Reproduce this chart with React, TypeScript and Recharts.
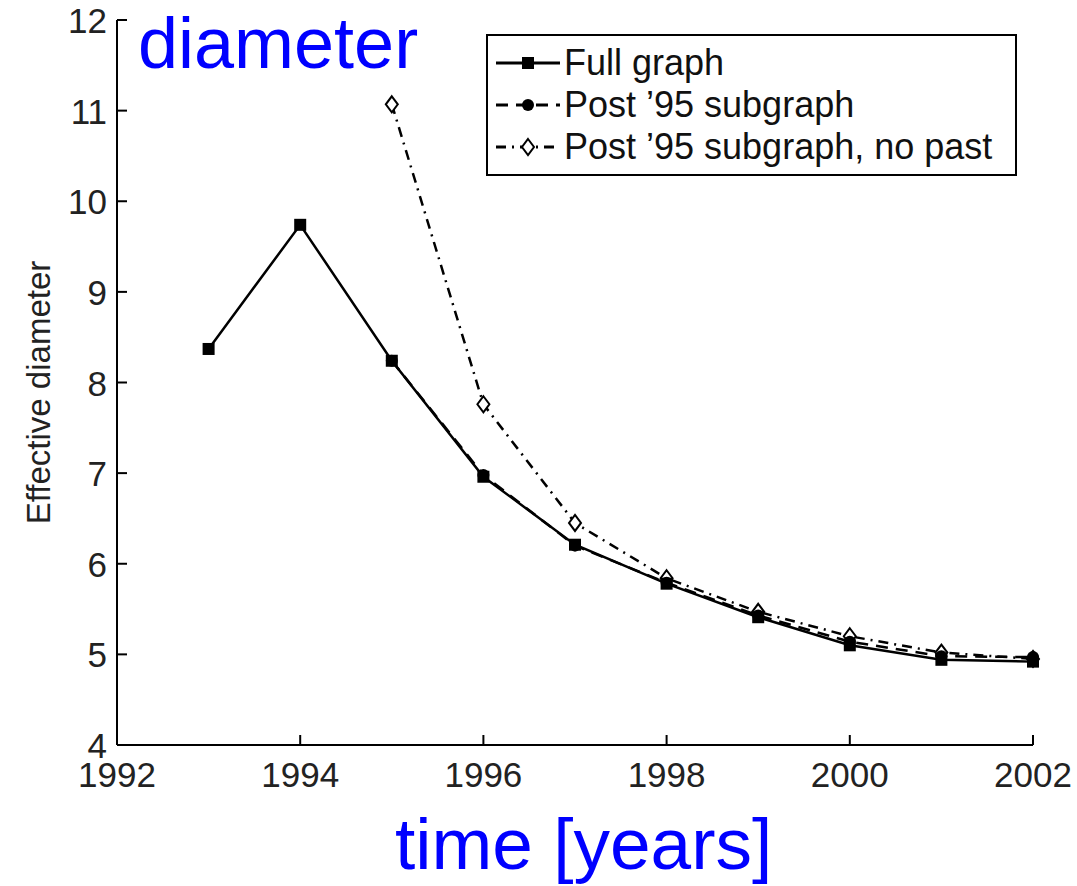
import { LineChart, Line, XAxis, YAxis } from "recharts"

const years = [1993, 1994, 1995, 1996, 1997, 1998, 1999, 2000, 2001, 2002]
const fullGraph = [8.37, 9.74, 8.24, 6.96, 6.21, 5.78, 5.41, 5.1, 4.94, 4.92]
const post95 = [null, null, 8.24, 6.98, 6.2, 5.79, 5.43, 5.14, 4.98, 4.97]
const post95NoPast = [null, null, 11.07, 7.76, 6.45, 5.84, 5.47, 5.2, 5.02, 4.95]

const xTicks = [1992, 1994, 1996, 1998, 2000, 2002]
const yTicks = [4, 5, 6, 7, 8, 9, 10, 11, 12]

const FONT = "'Liberation Sans', Arial, Helvetica, sans-serif"

const data = years.map((year, i) => ({
    year,
    full: fullGraph[i],
    post95: post95[i],
    noPast: post95NoPast[i],
}))

const SquareDot = (props: any) => {
    const { cx, cy, key } = props
    if (cx == null || cy == null) return <g key={key} />
    return <rect key={key} x={cx - 6} y={cy - 6} width={12} height={12} fill="#000" />
}

const CircleDot = (props: any) => {
    const { cx, cy, key } = props
    if (cx == null || cy == null) return <g key={key} />
    return <circle key={key} cx={cx} cy={cy} r={6} fill="#000" />
}

const DiamondDot = (props: any) => {
    const { cx, cy, key } = props
    if (cx == null || cy == null) return <g key={key} />
    return (
        <polygon
            key={key}
            points={`${cx},${cy - 8} ${cx + 6},${cy} ${cx},${cy + 8} ${cx - 6},${cy}`}
            fill="#fff"
            stroke="#000"
            strokeWidth={2}
        />
    )
}

const XTick = ({ x, y, payload }: any) => (
    <g>
        <line x1={x} y1={y} x2={x} y2={y - 10} stroke="#000" strokeWidth={2} />
        <text x={x} y={y + 42} textAnchor="middle" fontSize={35} fontFamily={FONT} fill="#222">
            {payload.value}
        </text>
    </g>
)

const YTick = ({ x, y, payload }: any) => (
    <g>
        <line x1={x} y1={y} x2={x + 10} y2={y} stroke="#000" strokeWidth={2} />
        <text x={x - 10} y={y + 13} textAnchor="end" fontSize={35} fontFamily={FONT} fill="#222">
            {payload.value}
        </text>
    </g>
)

const series = [
    { name: "Full graph", dash: undefined, Dot: SquareDot },
    { name: "Post \u201995 subgraph", dash: "12 8", Dot: CircleDot },
    { name: "Post \u201995 subgraph, no past", dash: "10 6 2 6", Dot: DiamondDot },
]

const LegendBox = () => (
    <div
        style={{
            position: "absolute",
            left: 486,
            top: 34,
            width: 531,
            height: 142,
            border: "2px solid #000",
            background: "#fff",
            boxSizing: "border-box",
            fontFamily: FONT,
        }}
    >
        {series.map((s, i) => (
            <div key={i} style={{ display: "flex", alignItems: "center", height: 42, marginTop: i === 0 ? 6 : 0 }}>
                <svg width={76} height={30}>
                    <line x1={8} y1={15} x2={72} y2={15} stroke="#000" strokeWidth={3} strokeDasharray={s.dash} />
                    <s.Dot cx={40} cy={15} />
                </svg>
                <span style={{ fontSize: 36, color: "#111", lineHeight: "42px" }}>{s.name}</span>
            </div>
        ))}
    </div>
)

export default function App() {
    return (
        <div style={{ position: "absolute", left: 0, top: 0, width: 1077, height: 886, background: "#fff" }}>
            <LineChart width={1077} height={886} data={data} margin={{ top: 20, right: 44, left: 0, bottom: 0 }}>
                <XAxis
                    dataKey="year"
                    type="number"
                    domain={[1992, 2002]}
                    ticks={xTicks}
                    height={141}
                    tickSize={0}
                    tickMargin={0}
                    tick={<XTick />}
                    axisLine={{ stroke: "#000", strokeWidth: 2 }}
                    tickLine={false}
                    interval={0}
                />
                <YAxis
                    type="number"
                    domain={[4, 12]}
                    ticks={yTicks}
                    width={117}
                    tickSize={0}
                    tickMargin={0}
                    tick={<YTick />}
                    axisLine={{ stroke: "#000", strokeWidth: 2 }}
                    tickLine={false}
                    interval={0}
                    label={{
                        value: "Effective diameter",
                        angle: -90,
                        position: "insideLeft",
                        offset: 0,
                        dx: 38,
                        dy: 10,
                        style: { fontSize: 33, fontFamily: FONT, fill: "#222", textAnchor: "middle" },
                    }}
                />
                <Line
                    dataKey="noPast"
                    stroke="#000"
                    strokeWidth={2.5}
                    strokeDasharray="10 6 2 6"
                    dot={<DiamondDot />}
                    isAnimationActive={false}
                />
                <Line
                    dataKey="post95"
                    stroke="#000"
                    strokeWidth={2.5}
                    strokeDasharray="12 8"
                    dot={<CircleDot />}
                    isAnimationActive={false}
                />
                <Line
                    dataKey="full"
                    stroke="#000"
                    strokeWidth={2.5}
                    dot={<SquareDot />}
                    isAnimationActive={false}
                />
            </LineChart>
            <LegendBox />
            <div
                style={{
                    position: "absolute",
                    left: 138,
                    top: 2,
                    fontSize: 72,
                    fontFamily: FONT,
                    color: "#0000ff",
                    lineHeight: "82px",
                }}
            >
                diameter
            </div>
            <div
                style={{
                    position: "absolute",
                    left: 395,
                    top: 802,
                    fontSize: 73,
                    fontFamily: FONT,
                    color: "#0000ff",
                    lineHeight: "84px",
                }}
            >
                time [years]
            </div>
        </div>
    )
}
